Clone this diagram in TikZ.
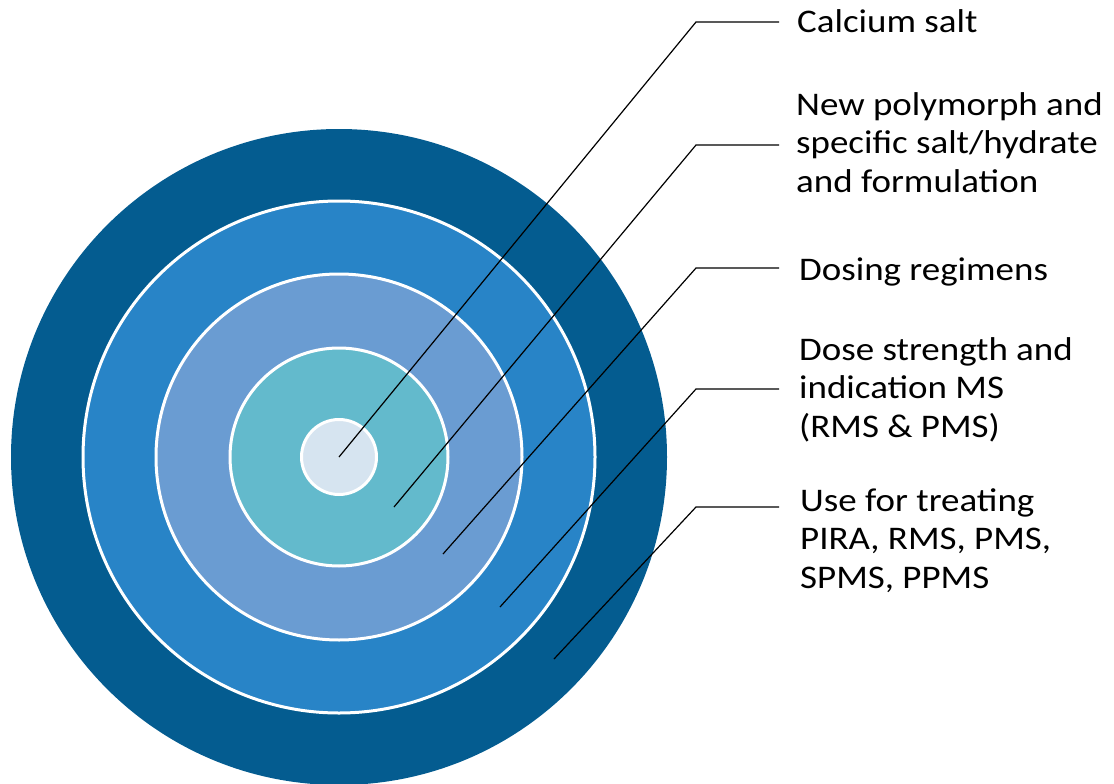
\documentclass[tikz,border=0pt]{standalone}
\usepackage{fontspec}
\setmainfont{Carlito}[FakeStretch=1.12]
\definecolor{ringA}{RGB}{4,92,144}
\definecolor{ringB}{RGB}{40,132,199}
\definecolor{ringC}{RGB}{106,156,210}
\definecolor{ringD}{RGB}{99,186,204}
\definecolor{ringE}{RGB}{214,228,240}
\tikzset{
  disc/.style={circle, inner sep=0pt, draw=white, line width=3pt},
  lbl/.style={anchor=base west, inner sep=0pt, align=left, font=\fontsize{33}{38.5}\selectfont},
  leader/.style={draw=black, line width=1.2pt},
}
\begin{document}
\begin{tikzpicture}[x=1pt,y=-1pt]
\useasboundingbox (0,0) rectangle (1114,784);
\coordinate (c) at (339,457);
\node[disc, fill=ringA, draw=none, minimum size=656pt] (d1) at (c) {};
\node[disc, fill=ringB, minimum size=512pt] (d2) at (c) {};
\node[disc, fill=ringC, minimum size=366pt] (d3) at (c) {};
\node[disc, fill=ringD, minimum size=218pt] (d4) at (c) {};
\node[disc, fill=ringE, minimum size=75pt] (d5) at (c) {};

\node[lbl] (t1) at (797,33) {Calcium salt};
\node[lbl] (t2) at (796,192) {New polymorph and\\specific salt/hydrate\\and formulation};
\node[lbl] (t3) at (799,280) {Dosing regimens};
\node[lbl] (t4) at (799,437) {Dose strength and\\indication MS\\(RMS \& PMS)};
\node[lbl] (t5) at (800,588) {Use for treating\\PIRA, RMS, PMS,\\SPMS, PPMS};

\coordinate (p1) at (339,457); \coordinate (e1) at (696,22);  \coordinate (h1) at (779,22);
\coordinate (p2) at (394,507); \coordinate (e2) at (696,145); \coordinate (h2) at (779,145);
\coordinate (p3) at (443,554); \coordinate (e3) at (696,268); \coordinate (h3) at (779,268);
\coordinate (p4) at (500,607); \coordinate (e4) at (696,389); \coordinate (h4) at (779,389);
\coordinate (p5) at (554,659); \coordinate (e5) at (696,507); \coordinate (h5) at (779,507);
\foreach \i in {1,...,5} {\draw[leader] (p\i) -- (e\i) -- (h\i);}
\end{tikzpicture}
\end{document}
